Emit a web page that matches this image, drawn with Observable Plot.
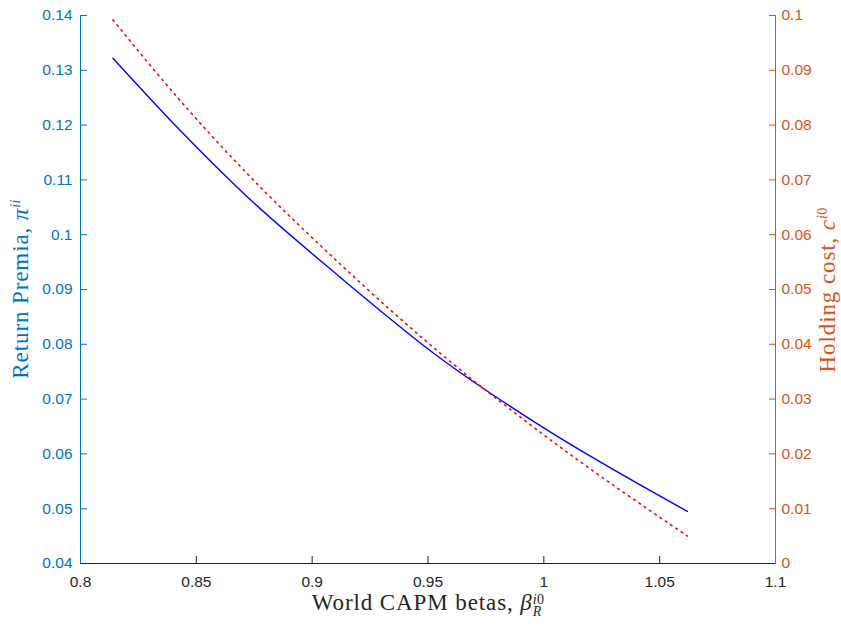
<!DOCTYPE html>
<html><head><meta charset="utf-8">
<script src="https://cdn.jsdelivr.net/npm/d3@7"></script>
<script src="https://cdn.jsdelivr.net/npm/@observablehq/plot@0.6"></script>
<style>html,body{margin:0;padding:0;background:#fff} svg{display:block}</style>
</head><body><div id="chart"></div>
<script>
// World CAPM betas (x), return premia (left axis), holding cost (right axis)
const beta   = [0.8140, 0.8440, 0.8700, 0.9122, 0.9552, 0.9986, 1.0620];
const premia = [0.1322, 0.1186, 0.1077, 0.0922, 0.0775, 0.0651, 0.0495];
const cost   = [0.0992, 0.0840, 0.0720, 0.0546, 0.0384, 0.0239, 0.0050];

const xTicks     = [0.8, 0.85, 0.9, 0.95, 1, 1.05, 1.1];
const leftTicks  = [0.04, 0.05, 0.06, 0.07, 0.08, 0.09, 0.1, 0.11, 0.12, 0.13, 0.14];
const rightTicks = [0, 0.01, 0.02, 0.03, 0.04, 0.05, 0.06, 0.07, 0.08, 0.09, 0.1];

const xDomain = [0.8, 1.1];
const leftDomain = [0.04, 0.14];
const rightDomain = [0, 0.1];

const BLUE_AX = "#0072BD", ORANGE_AX = "#D95319", DARK = "#262626";

const k = (leftDomain[1] - leftDomain[0]) / (rightDomain[1] - rightDomain[0]);
const toLeft = v => leftDomain[0] + (v - rightDomain[0]) * k;
const fromLeft = v => rightDomain[0] + (v - leftDomain[0]) / k;
const fmt = v => String(+v.toFixed(4));

const data = beta.map((b, i) => ({beta: b, premia: premia[i], cost: cost[i]}));

const chart = Plot.plot({
  width: 841, height: 627,
  marginLeft: 80, marginRight: 66, marginTop: 15, marginBottom: 64,
  style: {fontFamily: "'Liberation Sans', Arial, Helvetica, sans-serif", fontSize: "15.5px", background: "#fff", overflow: "visible"},
  x: {domain: xDomain},
  y: {domain: leftDomain},
  marks: [
    Plot.axisX({ticks: xTicks, tickSize: -7, tickPadding: 19, tickFormat: fmt, label: null, color: DARK, fontSize: 15.5}),
    Plot.axisY({anchor: "left", ticks: leftTicks, tickSize: -7, tickPadding: 15, tickFormat: fmt, label: null, color: BLUE_AX, fontSize: 15.5}),
    Plot.axisY({anchor: "right", ticks: rightTicks.map(toLeft), tickSize: -7, tickPadding: 13, tickFormat: d => fmt(fromLeft(d)), label: null, color: ORANGE_AX, fontSize: 15.5}),
    Plot.ruleY([leftDomain[0]], {stroke: DARK, strokeWidth: 1}),
    Plot.ruleX([xDomain[0]], {stroke: BLUE_AX, strokeWidth: 1}),
    Plot.ruleX([xDomain[1]], {stroke: ORANGE_AX, strokeWidth: 1}),
    Plot.line(data, {x: "beta", y: "premia", stroke: "#0000FF", strokeWidth: 1.4, curve: "monotone-x"}),
    Plot.line(data, {x: "beta", y: d => toLeft(d.cost), stroke: "#FF0000", strokeWidth: 1.6, strokeDasharray: "1.6,4.8", curve: "monotone-x"})
  ]
});
document.getElementById("chart").appendChild(chart);

const svg = d3.select(chart);
const serif = "'Liberation Serif', 'Times New Roman', Times, serif";

function addLabel({x, y, rotate, color, main, sym, sup, sub}) {
  const t = svg.append("text")
    .attr("transform", `translate(${x},${y}) rotate(${rotate})`)
    .attr("text-anchor", "middle")
    .attr("fill", color)
    .style("font-family", serif)
    .style("font-size", "23px")
    .style("letter-spacing", "0.9px");
  t.append("tspan").text(main);
  t.append("tspan").attr("font-style", "italic").text(sym);
  const s = t.append("tspan").attr("dy", sub ? -6 : -8).style("font-size", "14px").style("letter-spacing", "0.3px");
  sup.forEach(p => s.append("tspan").attr("font-style", p.italic ? "italic" : "normal").text(p.t));
  if (sub) {
    const w = s.node().getComputedTextLength();
    t.append("tspan").attr("dx", -w).attr("dy", 12).style("font-size", "14px").attr("font-style", "italic").text(sub);
  }
}

addLabel({x: 428, y: 610, rotate: 0, color: DARK, main: "World CAPM betas, ", sym: "β",
  sup: [{t: "i", italic: true}, {t: "0", italic: false}], sub: "R"});
addLabel({x: 28, y: 289, rotate: -90, color: BLUE_AX, main: "Return Premia, ", sym: "π",
  sup: [{t: "ii", italic: true}]});
addLabel({x: 835, y: 290, rotate: -90, color: ORANGE_AX, main: "Holding cost, ", sym: "c",
  sup: [{t: "i", italic: true}, {t: "0", italic: false}]});
</script>
</body></html>
